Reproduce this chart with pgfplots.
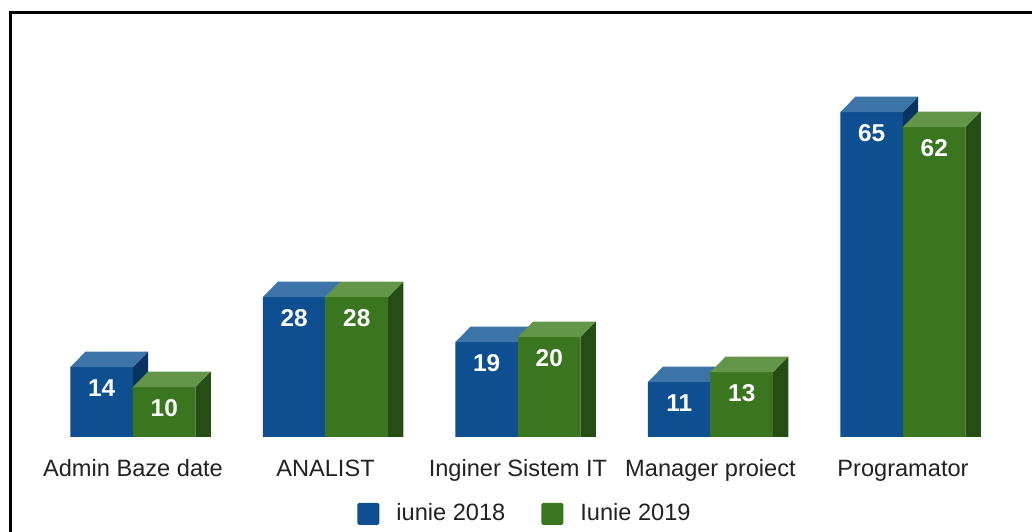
\documentclass[border=0pt]{standalone}
\usepackage{fontspec}
\setmainfont{Liberation Sans}
\usepackage{pgfplots}
\usepackage{pgfplotstable}
\pgfplotsset{compat=1.18}

\definecolor{blueF}{RGB}{14,79,145}
\definecolor{blueT}{RGB}{60,116,168}
\definecolor{blueS}{RGB}{9,52,98}
\definecolor{greenF}{RGB}{58,118,32}
\definecolor{greenT}{RGB}{100,150,74}
\definecolor{greenS}{RGB}{37,78,20}
\definecolor{txt}{RGB}{34,34,34}

% job counts: a = iunie 2018, b = Iunie 2019
\pgfplotstableread{
x a b
0 14 10
1 28 28
2 19 20
3 11 13
4 65 62
}\data

\def\bw{0.325}  % bar width (axis units)
\def\dx{0.079}  % depth, x
\def\dy{3.1}    % depth, y

% top and side faces of one bar, from its left edge and value
\newcommand\cube[4]{%
  \pgfmathsetmacro\xl{#1}%
  \pgfmathsetmacro\xr{#1+\bw}%
  \pgfmathsetmacro\xlb{\xl+\dx}%
  \pgfmathsetmacro\xrb{\xr+\dx}%
  \pgfmathsetmacro\yt{#2+\dy}%
  \edef\tmp{%
    \noexpand\addplot[fill=#3,draw=none,forget plot] coordinates {(\xr,0) (\xrb,0) (\xrb,\yt) (\xr,#2)};
    \noexpand\addplot[fill=#4,draw=none,forget plot] coordinates {(\xl,#2) (\xlb,\yt) (\xrb,\yt) (\xr,#2)};
  }\tmp}

\begin{document}
\begin{tikzpicture}
\useasboundingbox (0,0) rectangle (516bp,266bp);
\fill[white] (0,0) rectangle (516bp,266bp);
\draw[black, line width=1.5bp] (5.25bp,0) -- (5.25bp,259.75bp) -- (516bp,259.75bp);
\begin{axis}[
  at={(8.75bp,47.5bp)}, anchor=south west,
  scale only axis, width=500.5bp, height=187.5bp,
  xmin=-0.6, xmax=4.6, ymin=0, ymax=75,
  axis line style={draw=none}, tick style={draw=none},
  ytick=\empty,
  xtick={0,1,2,3,4},
  xticklabels={Admin Baze date, ANALIST, Inginer Sistem IT, Manager proiect, Programator},
  xticklabel style={anchor=base, yshift=-19.5bp, text=txt,
    font=\fontsize{11.8bp}{13bp}\selectfont},
  /pgf/number format/assume math mode=true,
  nodes near coords style={text=white, anchor=center, yshift=-10.5bp,
    font=\fontsize{12.2bp}{14bp}\selectfont\bfseries},
  legend style={at={(0.508,-0.205)}, anchor=center, draw=none, fill=none,
    legend columns=2, text=txt, font=\fontsize{11.8bp}{13bp}\selectfont,
    /tikz/every odd column/.append style={column sep=6.5bp},
    /tikz/every even column/.append style={column sep=16bp}},
]
\addplot[ybar, bar width=\bw, bar shift=-0.1625, fill=blueF, draw=none,
  nodes near coords, every node near coord/.append style={xshift=-15.64bp},
  legend image code/.code={\fill[blueF, rounded corners=0.8bp] (0bp,-5.5bp) rectangle (11bp,5.5bp);}]
  table[x=x, y=a] {\data};
\addlegendentry{iunie 2018}
\pgfplotsinvokeforeach{0,...,4}{
  \pgfplotstablegetelem{#1}{a}\of\data
  \let\va\pgfplotsretval
  \cube{#1-\bw}{\va}{blueS}{blueT}
}
\addplot[ybar, bar width=\bw, bar shift=0.1625, fill=greenF, draw=none,
  nodes near coords, every node near coord/.append style={xshift=15.64bp},
  legend image code/.code={\fill[greenF, rounded corners=0.8bp] (0bp,-5.5bp) rectangle (11bp,5.5bp);}]
  table[x=x, y=b] {\data};
\addlegendentry{Iunie 2019}
\pgfplotsinvokeforeach{0,...,4}{
  \pgfplotstablegetelem{#1}{b}\of\data
  \let\vb\pgfplotsretval
  \cube{#1}{\vb}{greenS}{greenT}
}
\end{axis}
\end{tikzpicture}
\end{document}
